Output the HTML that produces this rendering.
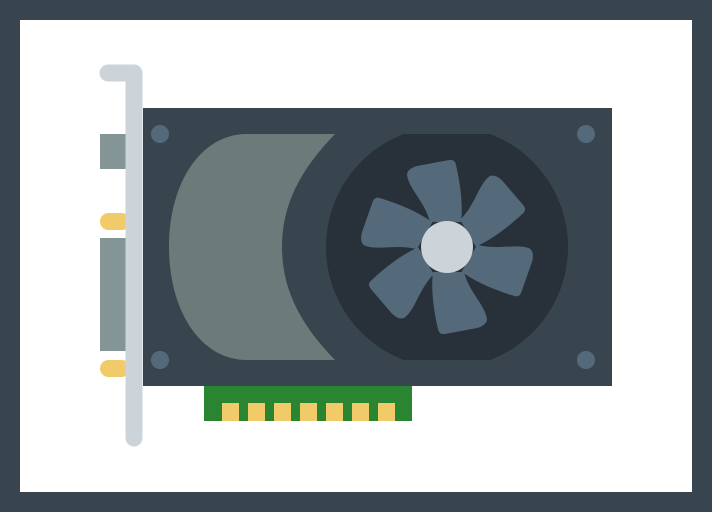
<!DOCTYPE html>
<html><head><meta charset="utf-8"><style>
html,body{margin:0;padding:0;width:712px;height:512px;overflow:hidden;background:#38454f}
</style></head><body>
<svg width="712" height="512" viewBox="0 0 712 512" xmlns="http://www.w3.org/2000/svg">
<rect x="0" y="0" width="712" height="512" fill="#38454f"/>
<rect x="20" y="20" width="672" height="472" fill="#ffffff"/>
<!-- connectors -->
<rect x="100" y="134" width="27" height="35" fill="#839594"/>
<rect x="100" y="238" width="27" height="113" fill="#839594"/>
<rect x="100" y="213" width="30" height="17" rx="8.5" fill="#f1cb6a"/>
<rect x="100" y="360" width="30" height="17" rx="8.5" fill="#f1cb6a"/>
<!-- bracket -->
<path d="M108,73 L134,73 L134,438" fill="none" stroke="#ccd4da" stroke-width="17" stroke-linecap="round" stroke-linejoin="round"/>
<!-- pcb -->
<rect x="204" y="386" width="208" height="35" fill="#2a8533"/>
<g fill="#f1cb6a">
<rect x="222" y="403" width="17" height="18"/><rect x="248" y="403" width="17" height="18"/><rect x="274" y="403" width="17" height="18"/><rect x="300" y="403" width="17" height="18"/><rect x="326" y="403" width="17" height="18"/><rect x="352" y="403" width="17" height="18"/><rect x="378" y="403" width="17" height="18"/>
</g>
<!-- card -->
<rect x="143" y="108" width="469" height="278" fill="#38454f"/>
<path d="M247,134 L335,134 C300,170 282,205 282,247 C282,289 300,324 335,360 L247,360 C200,360 169,310 169,247 C169,184 200,134 247,134 Z" fill="#6c7a79"/>
<defs><clipPath id="c"><rect x="300" y="134" width="300" height="226"/></clipPath></defs>
<circle cx="447" cy="247" r="121" fill="#283039" clip-path="url(#c)"/>
<g transform="translate(447,247)" fill="#546a7b">
<path id="b" d="M -17,-25 C -22,-45 -38,-58 -40,-72 Q -40,-78 -30,-81 L 2,-87 Q 8,-88 9,-82 C 14,-60 16,-40 14,-25 Z"/>
<use href="#b" transform="rotate(60)"/>
<use href="#b" transform="rotate(120)"/>
<use href="#b" transform="rotate(180)"/>
<use href="#b" transform="rotate(240)"/>
<use href="#b" transform="rotate(300)"/>
</g>
<circle cx="447" cy="247" r="26" fill="#ccd4da"/>
<g fill="#546a7b">
<circle cx="160" cy="134" r="9"/><circle cx="160" cy="360" r="9"/><circle cx="586" cy="134" r="9"/><circle cx="586" cy="360" r="9"/>
</g>
</svg>
</body></html>
